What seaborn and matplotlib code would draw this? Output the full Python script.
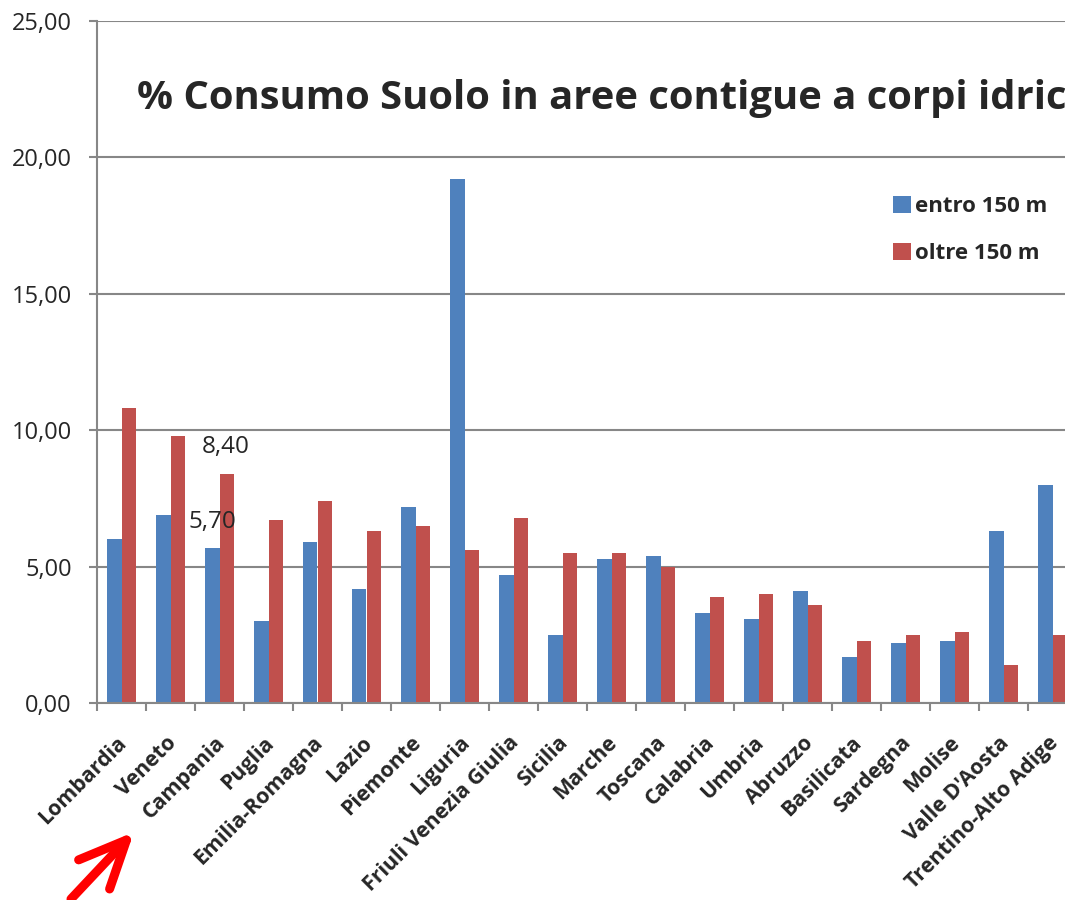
import numpy as np
import pandas as pd
import matplotlib
matplotlib.use("Agg")
import matplotlib.pyplot as plt
import matplotlib.transforms as mtransforms
from matplotlib.patches import FancyArrowPatch
from matplotlib.ticker import FuncFormatter, FixedLocator
import seaborn as sns

# dati
regioni = ["Lombardia", "Veneto", "Campania", "Puglia", "Emilia-Romagna", "Lazio",
           "Piemonte", "Liguria", "Friuli Venezia Giulia", "Sicilia", "Marche",
           "Toscana", "Calabria", "Umbria", "Abruzzo", "Basilicata", "Sardegna",
           "Molise", "Valle D'Aosta", "Trentino-Alto Adige"]
entro_150 = [6.0, 6.9, 5.7, 3.0, 5.9, 4.2, 7.2, 19.2, 4.7, 2.5, 5.3,
             5.4, 3.3, 3.1, 4.1, 1.7, 2.2, 2.3, 6.3, 8.0]
oltre_150 = [10.8, 9.8, 8.4, 6.7, 7.4, 6.3, 6.5, 5.6, 6.8, 5.5, 5.5,
             5.0, 3.9, 4.0, 3.6, 2.3, 2.5, 2.6, 1.4, 2.5]
serie = ["entro 150 m", "oltre 150 m"]
colori = ["#4F81BD", "#C0504D"]
y_ticks = [0, 5, 10, 15, 20, 25]
titolo = "% Consumo Suolo in aree contigue a corpi idrici"

df = pd.DataFrame({
    "regione": regioni * 2,
    "valore": entro_150 + oltre_150,
    "serie": [serie[0]] * len(regioni) + [serie[1]] * len(regioni),
})

sns.set_style("white")
plt.rcParams["font.family"] = ["Open Sans", "DejaVu Sans"]

fig = plt.figure(figsize=(10.65, 9), dpi=100)
# l'asse esce a destra: il grafico originale e' tagliato
ax = fig.add_axes([97 / 1065, 1 - 703.3 / 900, 980 / 1065, (703.3 - 20.7) / 900])

sns.barplot(data=df, x="regione", y="valore", hue="serie", order=regioni,
            hue_order=serie, palette=colori, width=0.572, saturation=1,
            edgecolor="none", ax=ax, legend=True)

ax.set_xlim(-0.5, len(regioni) - 0.5)
ax.set_ylim(0, 25)
ax.set_xlabel("")
ax.set_ylabel("")

grigio = "#878787"
ax.yaxis.set_major_locator(FixedLocator(y_ticks))
ax.yaxis.set_major_formatter(FuncFormatter(lambda v, p: f"{v:.2f}".replace(".", ",")))
ax.grid(axis="y", color=grigio, linewidth=1.5)
ax.set_axisbelow(True)

for s in ["top", "right"]:
    ax.spines[s].set_visible(False)
for s in ["left", "bottom"]:
    ax.spines[s].set_color(grigio)
    ax.spines[s].set_linewidth(1.5)

ax.tick_params(axis="y", length=6, width=1.5, color=grigio, pad=12,
               labelsize=17, left=True)
ax.set_xticks(np.arange(-0.5, len(regioni), 1.0), minor=True)
ax.tick_params(axis="x", which="minor", length=6, width=1.5, color=grigio, bottom=True)
ax.tick_params(axis="x", which="major", length=0, pad=21)
ax.set_xticks(range(len(regioni)))
ax.set_xticklabels(regioni, rotation=45, ha="right", rotation_mode="anchor",
                   fontsize=15.4, fontweight="bold")
sposta = mtransforms.ScaledTranslation(-5 / 100, 0, fig.dpi_scale_trans)
for lab in ax.get_xticklabels():
    lab.set_transform(lab.get_transform() + sposta)

# etichette sui valori della Campania
ax.text(2.13, 9.4, f"{oltre_150[2]:.2f}".replace(".", ","), ha="center", va="center", fontsize=17.5)
ax.text(1.85, 6.65, f"{entro_150[2]:.2f}".replace(".", ","), ha="center", va="center", fontsize=17.5)

leg = ax.legend(loc="upper left", bbox_to_anchor=(873 / 1065, 1 - 176 / 900),
                bbox_transform=fig.transFigure, frameon=False, handlelength=0.8,
                handleheight=0.8, handletextpad=0.2, labelspacing=1.15,
                prop={"weight": "bold", "size": 16})

fig.text(137 / 1065, 1 - 99 / 900, titolo, fontsize=28.8, fontweight="bold",
         ha="left", va="center")

freccia = FancyArrowPatch((71 / 1065, 1 - 899 / 900), (134 / 1065, 1 - 832 / 900),
                          transform=fig.transFigure,
                          arrowstyle="->,head_length=1.0,head_width=0.45",
                          color="#FF0000", linewidth=6.5, capstyle="round", joinstyle="round",
                          mutation_scale=34, shrinkA=0, shrinkB=0)
fig.add_artist(freccia)

fig.savefig("out.png", dpi=100)
